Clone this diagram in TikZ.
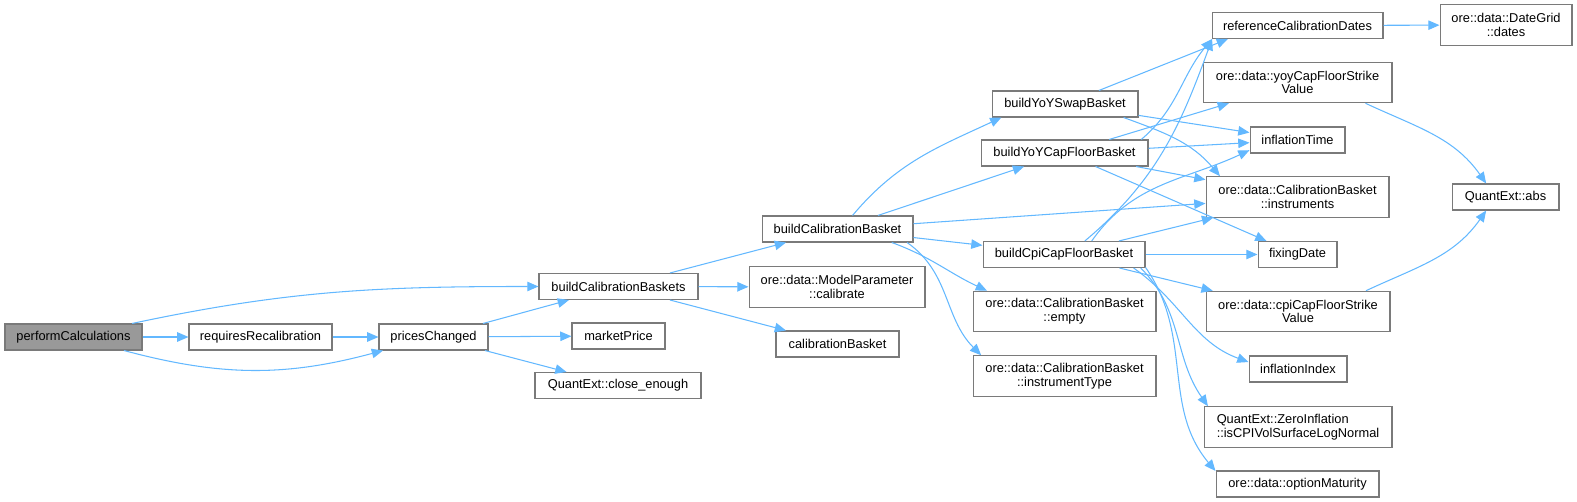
\documentclass[tikz,border=0pt]{standalone}
\usepackage{fontspec}
\setmainfont{Liberation Sans}
\usepackage{xcolor}
\usepackage{tikz}
\usetikzlibrary{arrows.meta,positioning}

\definecolor{edgeblue}{HTML}{63B8FF}
\definecolor{boxgray}{HTML}{7A7A7A}
\definecolor{rootgray}{HTML}{999999}

\begin{document}
\begin{tikzpicture}[
  x=0.02cm, y=-0.02cm,
  box/.style={rectangle, draw=boxgray, line width=0.6pt, fill=white, inner sep=0pt, align=center, minimum height=0.52cm, font=\fontsize{7.3}{7.8}\selectfont},
  tall/.style={box, minimum height=0.81cm},
  arrow/.style={-{Triangle[length=6.4pt,width=5.4pt]}, draw=edgeblue, line width=0.6pt}
]
\useasboundingbox (0,0) rectangle (1577,502);

% callers on the left
\node[box, fill=rootgray, minimum width=2.74cm] (perf) at (73.5,337) {performCalculations};
\node[box, minimum width=2.86cm] (reqRecal) at (260.5,337) {requiresRecalibration};
\node[box, minimum width=2.18cm] (prices) at (433.5,337) {pricesChanged};
\node[box, minimum width=3.18cm] (bBaskets) at (618.5,286.5) {buildCalibrationBaskets};
\node[box, minimum width=1.86cm] (marketPrice) at (618.5,336) {marketPrice};
\node[box, minimum width=3.32cm] (closeEnough) at (618,385.5) {QuantExt::close\_enough};

% middle column
\node[box, minimum width=3.02cm] (bBasket) at (837.5,229) {buildCalibrationBasket};
\node[tall, minimum width=3.52cm] (calibrate) at (837,287) {ore::data::ModelParameter\\::calibrate};
\node[box, minimum width=2.46cm] (calibBasket) at (837.5,344) {calibrationBasket};

\node[box, minimum width=2.92cm] (yoySwap) at (1065,104) {buildYoYSwapBasket};
\node[box, minimum width=3.34cm] (yoyCapFloor) at (1064.5,153) {buildYoYCapFloorBasket};
\node[box, minimum width=3.24cm] (cpiCapFloor) at (1064,254.5) {buildCpiCapFloorBasket};
\node[tall, minimum width=3.66cm] (empty) at (1064.5,311.5) {ore::data::CalibrationBasket\\::empty};
\node[tall, minimum width=3.66cm] (instrType) at (1064.5,376) {ore::data::CalibrationBasket\\::instrumentType};

% callees on the right
\node[box, minimum width=3.42cm] (refDates) at (1297.5,25.5) {referenceCalibrationDates};
\node[tall, minimum width=3.78cm] (yoyStrike) at (1297.5,82.5) {ore::data::yoyCapFloorStrike\\Value};
\node[box, minimum width=1.90cm] (inflTime) at (1297.5,140) {inflationTime};
\node[tall, minimum width=3.66cm] (instruments) at (1297.5,197) {ore::data::CalibrationBasket\\::instruments};
\node[box, minimum width=1.58cm] (fixingDate) at (1297.5,254.5) {fixingDate};
\node[tall, minimum width=3.68cm] (cpiStrike) at (1298,311.5) {ore::data::cpiCapFloorStrike\\Value};
\node[box, minimum width=1.96cm] (inflIndex) at (1298,369) {inflationIndex};
\node[tall, minimum width=3.76cm, align=left] (isCPI) at (1298,427) {QuantExt::ZeroInflation\\::isCPIVolSurfaceLogNormal};
\node[box, minimum width=3.26cm] (optMat) at (1297.5,484) {ore::data::optionMaturity};

\node[tall, minimum width=2.64cm] (dates) at (1506,25) {ore::data::DateGrid\\::dates};
\node[box, minimum width=2.14cm] (abs) at (1505.5,197) {QuantExt::abs};

% calls
\draw[arrow] (perf.13) to[out=12, in=180] (bBaskets.west);
\draw[arrow] (perf) -- (reqRecal);
\draw[arrow] (perf.-15) to[out=-15, in=195] (prices.195);
\draw[arrow] (reqRecal) -- (prices);
\draw[arrow] (prices) -- (bBaskets);
\draw[arrow] (prices) -- (marketPrice);
\draw[arrow] (prices) -- (closeEnough);
\draw[arrow] (bBaskets) -- (bBasket);
\draw[arrow] (bBaskets) -- (calibrate);
\draw[arrow] (bBaskets) -- (calibBasket);

\draw[arrow] (bBasket.42) to[out=50, in=205] (yoySwap.192);
\draw[arrow] (bBasket) -- (yoyCapFloor);
\draw[arrow] (bBasket) -- (instruments);
\draw[arrow] (bBasket) -- (cpiCapFloor);
\draw[arrow] (bBasket.-14) to[out=-20, in=155] (empty.165);
\draw[arrow] (bBasket.-11) to[out=-35, in=135] (instrType.166);

\draw[arrow] (yoySwap) -- (refDates.191);
\draw[arrow] (yoySwap) -- (inflTime);
\draw[arrow] (yoySwap.-13) to[out=-20, in=130] (instruments.165);

\draw[arrow] (yoyCapFloor.10) to[out=40, in=230] (refDates.189);
\draw[arrow] (yoyCapFloor) -- (yoyStrike);
\draw[arrow] (yoyCapFloor) -- (inflTime);
\draw[arrow] (yoyCapFloor) -- (instruments);
\draw[arrow] (yoyCapFloor) -- (fixingDate);

\draw[arrow] (cpiCapFloor.33) to[out=40, in=250] (refDates.189);
\draw[arrow] (cpiCapFloor.26) to[out=55, in=205] (inflTime.192);
\draw[arrow] (cpiCapFloor) -- (instruments);
\draw[arrow] (cpiCapFloor) -- (fixingDate);
\draw[arrow] (cpiCapFloor) -- (cpiStrike);
\draw[arrow] (cpiCapFloor.-11) to[out=-35, in=160] (inflIndex.172);
\draw[arrow] (cpiCapFloor.-10) to[out=-45, in=125] (isCPI.167);
\draw[arrow] (cpiCapFloor.-9) to[out=-55, in=130] (optMat.171);

\draw[arrow] (refDates) -- (dates);
\draw[arrow] (yoyStrike.-17) to[out=-25, in=125] (abs.145);
\draw[arrow] (cpiStrike.17) to[out=25, in=-125] (abs.215);
\end{tikzpicture}
\end{document}
